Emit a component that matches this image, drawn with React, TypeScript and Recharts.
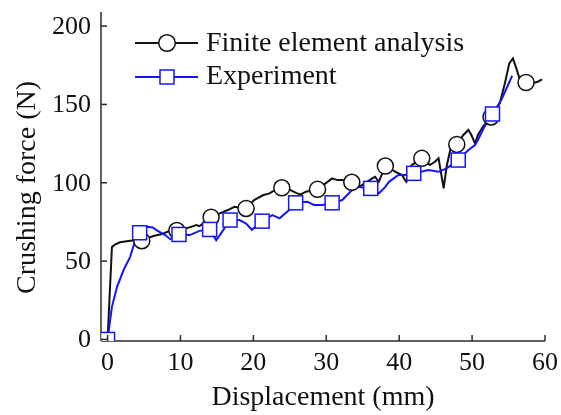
import { LineChart, Line, XAxis, YAxis, Label } from "recharts"

// Finite element curve
const femX = [0, 0.6, 1.0, 1.7, 3.1, 4.7, 6.3, 7.6, 8.6, 9.5, 10.8, 12.2, 12.6, 13.6, 14.2, 15.4, 16.5, 17.4, 18.1, 19.0, 20.1, 21.3, 22.2, 22.6, 23.9, 25.1, 26.0, 26.5, 27.2, 28.8, 29.9, 30.8, 31.5, 32.2, 33.5, 34.5, 35.6, 36.3, 36.7, 37.2, 38.1, 39.5, 40.4, 40.8, 41.0, 41.7, 43.1, 44.2, 44.9, 45.4, 46.1, 46.5, 47.0, 47.9, 48.8, 49.5, 49.9, 50.4, 50.8, 51.5, 52.6, 53.8, 54.5, 55.1, 55.6, 56.0, 56.5, 57.4, 58.3, 59.0, 59.6]
const femY = [0, 59, 60.5, 62, 63, 63.5, 66, 67.5, 69.5, 69.8, 70.9, 73, 72.3, 75.5, 78, 80.5, 82.6, 84.7, 84, 83.6, 89, 92, 93.2, 94.3, 96.8, 95.3, 93.2, 92.6, 94.3, 95.8, 99.6, 102.8, 101.7, 101.7, 100.3, 97.4, 100.6, 102.8, 103.8, 100.6, 110.7, 107, 104.9, 101.7, 100.6, 111.3, 115.6, 111.3, 113.4, 115.6, 96.4, 110.2, 120.9, 124.5, 130.5, 133.7, 130.5, 125.2, 130.5, 135.8, 142, 150.7, 163.5, 176.2, 179.4, 174, 166.7, 164, 163.5, 164.5, 166]

// Experiment curve
const expX = [0, 0.6, 1.3, 2.2, 3.1, 3.8, 4.4, 5.3, 6.2, 6.7, 7.9, 8.6, 9.8, 11.3, 12.6, 14.0, 14.9, 15.4, 16.8, 18.1, 19.0, 19.8, 20.8, 21.2, 22.6, 23.6, 24.9, 25.8, 27.4, 28.3, 29.5, 30.8, 32.2, 33.3, 34.2, 36.1, 37.2, 38.1, 38.6, 39.9, 40.8, 42.0, 44.0, 45.4, 46.5, 48.1, 49.5, 50.4, 50.8, 51.7, 52.8, 54.0, 55.5]
const expY = [0, 20.8, 33.6, 44.3, 52.7, 63.4, 68, 72, 71.5, 69.8, 66.6, 64, 67, 66.6, 69.3, 70.2, 63.4, 66.6, 76.2, 76.2, 74, 70, 74, 75.5, 79.4, 77.3, 82.6, 87.2, 87.9, 85.8, 85.8, 87.2, 89, 94.3, 97.4, 96.4, 93.2, 97.4, 100.6, 105, 105, 106, 108.2, 107, 109.2, 114.5, 120.9, 124, 127.3, 135.8, 143.9, 152.8, 168.3]

// marker positions
const femMarkX = [4.7, 9.5, 14.2, 19.0, 23.9, 28.8, 33.5, 38.1, 43.1, 47.9, 52.6, 57.4]
const femMarkY = [63, 69.5, 78, 83.6, 96.8, 95.8, 100.3, 110.7, 115.6, 124.5, 142, 164]
const expMarkX = [0, 4.4, 9.8, 14.0, 16.8, 21.2, 25.8, 30.8, 36.1, 42.0, 48.1, 52.8]
const expMarkY = [0, 68.1, 67, 70.2, 76.2, 75.5, 87.2, 87.2, 96.4, 106, 114.5, 143.9]

const xTicks = [0, 10, 20, 30, 40, 50, 60]
const yTicks = [0, 50, 100, 150, 200]

const zip = (xs: number[], ys: number[]) => xs.map((x, i) => ({ x, y: ys[i] }))

const FONT = "'Liberation Serif', 'Times New Roman', serif"
const BLUE = "#1414ff"
const AXIS = "#2a2a2a"

const XTick = (props: any) => {
  const { x, y, payload } = props
  return (
    <g>
      <line x1={x} y1={y} x2={x} y2={y - 6} stroke={AXIS} strokeWidth={1.5} />
      <text x={x} y={y + 29} textAnchor="middle" fontSize={26} fontFamily={FONT} fill="#111">
        {payload.value}
      </text>
    </g>
  )
}

const YTick = (props: any) => {
  const { x, y, payload } = props
  return (
    <g>
      <line x1={x} y1={y} x2={x + 6} y2={y} stroke={AXIS} strokeWidth={1.5} />
      <text x={x - 10} y={y + 8} textAnchor="end" fontSize={26} fontFamily={FONT} fill="#111">
        {payload.value}
      </text>
    </g>
  )
}

const circleDot = (p: any) => (
  <circle key={p.key ?? p.index} cx={p.cx} cy={p.cy} r={8} fill="#fff" stroke="#111" strokeWidth={1.5} />
)

const squareDot = (p: any) => (
  <rect key={p.key ?? p.index} x={p.cx - 7} y={p.cy - 7} width={14} height={14} fill="#fff" stroke={BLUE} strokeWidth={1.5} />
)

function LegendBox() {
  return (
    <svg width={380} height={80} style={{ position: "absolute", left: 120, top: 14 }}>
      <line x1={7} y1={21} x2={70} y2={21} stroke="#111" strokeWidth={2} />
      <circle cx={39} cy={21} r={8.3} fill="#fff" stroke="#111" strokeWidth={1.5} />
      <text x={78} y={29} fontSize={28} fontFamily={FONT} fill="#111">Finite element analysis</text>
      <line x1={7} y1={55} x2={70} y2={55} stroke={BLUE} strokeWidth={2} />
      <rect x={32} y={48} width={14} height={14} fill="#fff" stroke={BLUE} strokeWidth={1.5} />
      <text x={78} y={62} fontSize={28} fontFamily={FONT} fill="#111">Experiment</text>
    </svg>
  )
}

export default function App() {
  // fixed so the chart never makes the page scroll
  return (
    <div style={{ position: "fixed", left: 8, top: 8, width: 553, height: 407 }}>
      <LineChart width={553} height={407} margin={{ top: 4, right: 16, bottom: 0, left: 0 }}>
        <XAxis
          type="number"
          dataKey="x"
          domain={[-0.9, 60]}
          ticks={xTicks}
          allowDataOverflow
          height={74}
          tickSize={0}
          tickMargin={0}
          tickLine={false}
          tick={<XTick />}
          axisLine={{ stroke: AXIS, strokeWidth: 1.5 }}
        >
          <Label
            content={(p: any) => (
              <text
                x={p.viewBox.x + p.viewBox.width / 2}
                y={p.viewBox.y + 64}
                textAnchor="middle"
                fontSize={28}
                fontFamily={FONT}
                fill="#111"
              >
                Displacement (mm)
              </text>
            )}
          />
        </XAxis>
        <YAxis
          type="number"
          dataKey="y"
          domain={[-1, 209]}
          ticks={yTicks}
          allowDataOverflow
          width={93}
          tickSize={0}
          tickMargin={0}
          tickLine={false}
          tick={<YTick />}
          axisLine={{ stroke: AXIS, strokeWidth: 1.5 }}
        >
          <Label
            content={(p: any) => {
              const cx = p.viewBox.x + 17
              const cy = p.viewBox.y + p.viewBox.height / 2 + 11
              return (
                <text
                  x={cx}
                  y={cy}
                  transform={`rotate(-90, ${cx}, ${cy})`}
                  textAnchor="middle"
                  dominantBaseline="central"
                  fontSize={28}
                  fontFamily={FONT}
                  fill="#111"
                >
                  Crushing force (N)
                </text>
              )
            }}
          />
        </YAxis>
        <Line data={zip(femX, femY)} dataKey="y" type="linear" stroke="#111" strokeWidth={2} dot={false} activeDot={false} isAnimationActive={false} />
        <Line data={zip(expX, expY)} dataKey="y" type="linear" stroke={BLUE} strokeWidth={2} dot={false} activeDot={false} isAnimationActive={false} />
        <Line data={zip(femMarkX, femMarkY)} dataKey="y" stroke="none" strokeWidth={0} dot={circleDot} activeDot={false} isAnimationActive={false} />
        <Line data={zip(expMarkX, expMarkY)} dataKey="y" stroke="none" strokeWidth={0} dot={squareDot} activeDot={false} isAnimationActive={false} />
      </LineChart>
      <LegendBox />
    </div>
  )
}
